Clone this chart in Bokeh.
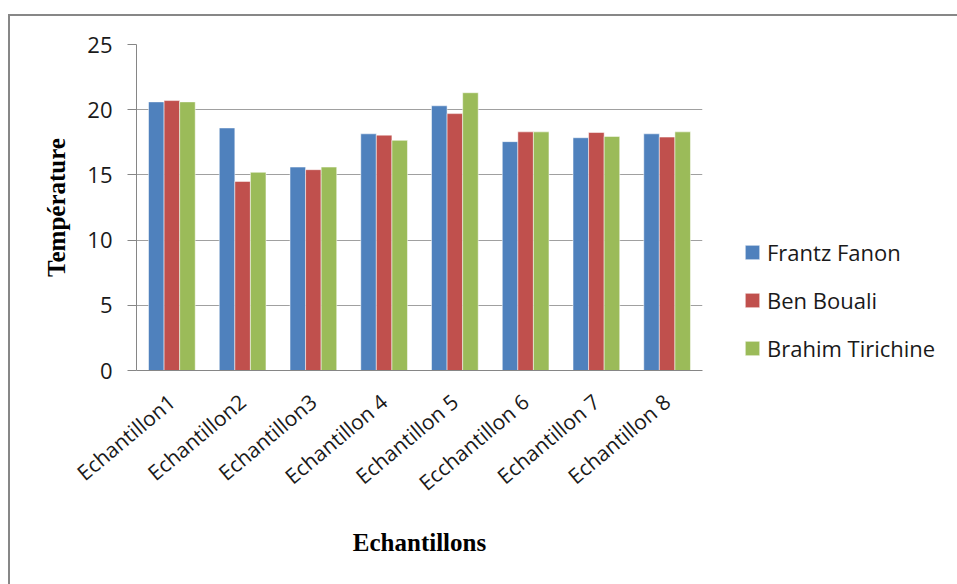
import math
from bokeh.plotting import figure
from bokeh.models import (FactorRange, Range1d, SingleIntervalTicker, Legend, LegendItem,
                          ColumnDataSource)
from bokeh.transform import dodge
from bokeh.embed import file_html
from bokeh.resources import INLINE

categories = ["Echantillon1", "Echantillon2", "Echantillon3", "Echantillon 4",
              "Echantillon 5", "Ecchantillon 6", "Echantillon 7", "Echantillon 8"]
series_names = ["Frantz Fanon", "Ben Bouali", "Brahim Tirichine"]
frantz_fanon = [20.6, 18.6, 15.6, 18.15, 20.3, 17.55, 17.85, 18.15]
ben_bouali = [20.7, 14.5, 15.4, 18.05, 19.7, 18.3, 18.25, 17.9]
brahim_tirichine = [20.6, 15.2, 15.6, 17.65, 21.3, 18.3, 17.95, 18.3]
colors = ["#4F81BD", "#C0504D", "#9BBB59"]
y_ticks_interval = 5

source = ColumnDataSource(dict(cat=categories, s0=frantz_fanon, s1=ben_bouali, s2=brahim_tirichine))

W, H = 947, 568
FL, FT, FW, FH = 126, 28, 566, 326

p = figure(x_range=FactorRange(*categories, range_padding=0), y_range=Range1d(0, 25),
           frame_width=FW, frame_height=FH, output_backend="svg", toolbar_location=None,
           min_border_left=FL, min_border_top=FT, min_border_right=W - FL - FW,
           min_border_bottom=H - FT - FH, margin=(14, 0, 0, 8))
p.styles = {"border-top": "2px solid #878787", "border-left": "2px solid #878787"}
p.outline_line_color = None
p.background_fill_color = "white"
p.border_fill_color = "white"

renderers = []
offsets = [-0.22, 0.0, 0.22]
for i, (name, col) in enumerate(zip(series_names, colors)):
    r = p.vbar(x=dodge("cat", offsets[i], range=p.x_range), top="s%d" % i, width=0.22,
               source=source, fill_color=col, line_color="white", line_alpha=0.5, line_width=1)
    renderers.append(r)

# grid
p.xgrid.grid_line_color = None
p.ygrid.grid_line_color = "#A0A0A0"
p.ygrid.grid_line_width = 1

# y axis
yax = p.yaxis[0]
yax.ticker = SingleIntervalTicker(interval=y_ticks_interval)
yax.minor_tick_line_color = None
yax.major_tick_out = 9
yax.major_tick_in = 0
yax.major_tick_line_color = "#868686"
yax.axis_line_color = "#868686"
yax.major_label_text_font = "Open Sans"
yax.major_label_text_font_size = "22px"
yax.major_label_text_color = "#1a1a1a"
yax.major_label_standoff = 15
yax.axis_label = "Température"
yax.axis_label_text_font = "Liberation Serif"
yax.axis_label_text_font_style = "bold"
yax.axis_label_text_font_size = "25px"
yax.axis_label_text_color = "black"
yax.axis_label_standoff = 14

# x axis
xax = p.xaxis[0]
xax.major_tick_line_color = None
xax.axis_line_color = "#868686"
xax.major_label_orientation = math.radians(40)
xax.major_label_text_font = "Open Sans"
xax.major_label_text_font_size = "21px"
xax.major_label_text_color = "#1a1a1a"
xax.major_label_standoff = 22
xax.axis_label = "Echantillons"
xax.axis_label_text_font = "Liberation Serif"
xax.axis_label_text_font_style = "bold"
xax.axis_label_text_font_size = "25px"
xax.axis_label_text_color = "black"
xax.axis_label_standoff = 19

legend = Legend(items=[LegendItem(label=n, renderers=[r]) for n, r in zip(series_names, renderers)],
                location=(41, 7))
legend.border_line_color = None
legend.background_fill_alpha = 0
legend.padding = 0
legend.margin = 0
legend.glyph_width = 18
legend.glyph_height = 18
legend.label_standoff = 6
legend.label_height = 22
legend.spacing = 18
legend.label_text_font = "Open Sans"
legend.label_text_font_size = "22px"
legend.label_text_color = "#1a1a1a"
p.add_layout(legend, "right")

open("out.html", "w").write(file_html(p, INLINE))
